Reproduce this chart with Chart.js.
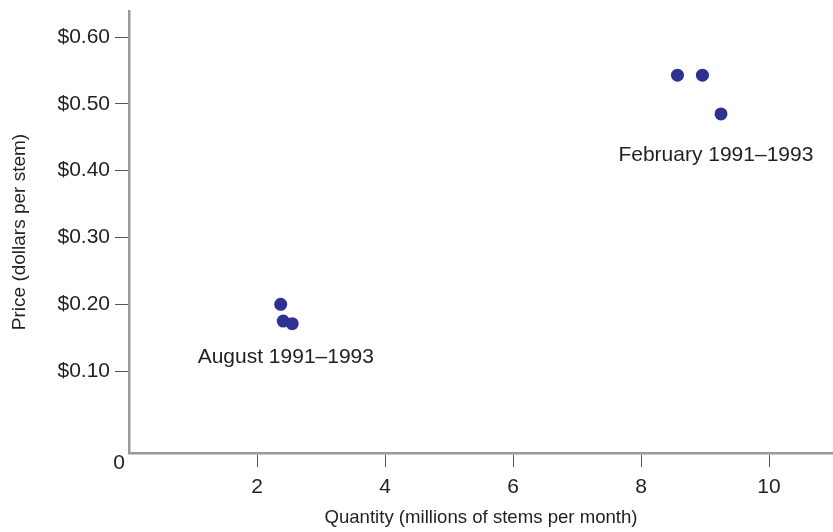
<!DOCTYPE html>
<html>
<head>
<meta charset="utf-8">
<script src="https://cdn.jsdelivr.net/npm/chart.js@4/dist/chart.umd.min.js"></script>
<style>
html,body{margin:0;padding:0;background:#fff;}
#wrap{width:833px;height:532px;}
</style>
</head>
<body>
<div id="wrap"><canvas id="c" width="833" height="532"></canvas></div>
<script>
// ---- data ----
const augustQty   = [2.37, 2.41, 2.55];
const augustPrice = [0.200, 0.175, 0.171];
const febQty      = [8.57, 8.96, 9.25];
const febPrice    = [0.543, 0.543, 0.485];
const xTickValues = [2, 4, 6, 8, 10];
const yTickValues = [0.1, 0.2, 0.3, 0.4, 0.5, 0.6];
const groupLabels = ["August 1991–1993", "February 1991–1993"];
const groupLabelAnchors = [[2.45, 0.121], [9.17, 0.423]];
const originLabel = "0";
const xTitle = "Quantity (millions of stems per month)";
const yTitle = "Price (dollars per stem)";

const FONT = "'Liberation Sans', Arial, Helvetica, sans-serif";
const TEXT = '#231f20';
const DOT = '#2e3192';

const pts = (xs, ys) => xs.map((x, i) => ({x, y: ys[i]}));

const labelPlugin = {
  id: 'groupLabels',
  afterDraw(chart) {
    const {ctx, scales: {x, y}, chartArea} = chart;
    ctx.save();
    ctx.fillStyle = TEXT;
    ctx.font = "21px " + FONT;
    ctx.textAlign = 'center';
    ctx.textBaseline = 'middle';
    groupLabels.forEach((t, i) => {
      ctx.fillText(t, x.getPixelForValue(groupLabelAnchors[i][0]), y.getPixelForValue(groupLabelAnchors[i][1]));
    });
    ctx.fillText(originLabel, chartArea.left - 10, chartArea.bottom + 10);
    ctx.restore();
  }
};

const zeroPad = s => { s.paddingTop = 0; s.paddingBottom = 0; s.paddingLeft = 0; s.paddingRight = 0; };

new Chart(document.getElementById('c'), {
  type: 'scatter',
  data: {
    datasets: [
      {label: 'August', data: pts(augustQty, augustPrice), backgroundColor: DOT, borderColor: DOT, pointRadius: 6.5, pointBorderWidth: 0},
      {label: 'February', data: pts(febQty, febPrice), backgroundColor: DOT, borderColor: DOT, pointRadius: 6.5, pointBorderWidth: 0}
    ]
  },
  options: {
    responsive: false,
    animation: false,
    devicePixelRatio: 1,
    layout: {autoPadding: false, padding: {top: 11, right: 0, bottom: 0, left: 0}},
    plugins: {legend: {display: false}, tooltip: {enabled: false}},
    scales: {
      x: {
        type: 'linear', min: 0, max: 11,
        afterBuildTicks: s => { s.ticks = xTickValues.map(v => ({value: v})); },
        afterFit: s => { s.height = 79; zeroPad(s); },
        border: {display: true, color: '#9a9a9c', width: 2.5},
        grid: {drawOnChartArea: false, drawTicks: true, tickLength: 14, color: '#555', lineWidth: 1},
        ticks: {color: TEXT, font: {family: FONT, size: 21}, padding: 8, maxRotation: 0},
        title: {display: true, text: xTitle, color: TEXT, font: {family: FONT, size: 18.6}, padding: {top: 0, bottom: 3}}
      },
      y: {
        type: 'linear', min: -0.0225, max: 0.639,
        afterBuildTicks: s => { s.ticks = yTickValues.map(v => ({value: v})); },
        afterFit: s => { s.width = 129; zeroPad(s); },
        border: {display: true, color: '#9a9a9c', width: 2.5},
        grid: {drawOnChartArea: false, drawTicks: true, tickLength: 14, color: '#555', lineWidth: 1},
        ticks: {color: TEXT, font: {family: FONT, size: 21}, padding: 5, callback: v => '$' + Number(v).toFixed(2)},
        title: {display: true, text: yTitle, color: TEXT, font: {family: FONT, size: 19}, padding: {top: 8, bottom: 0}}
      }
    }
  },
  plugins: [labelPlugin]
});
</script>
</body>
</html>
